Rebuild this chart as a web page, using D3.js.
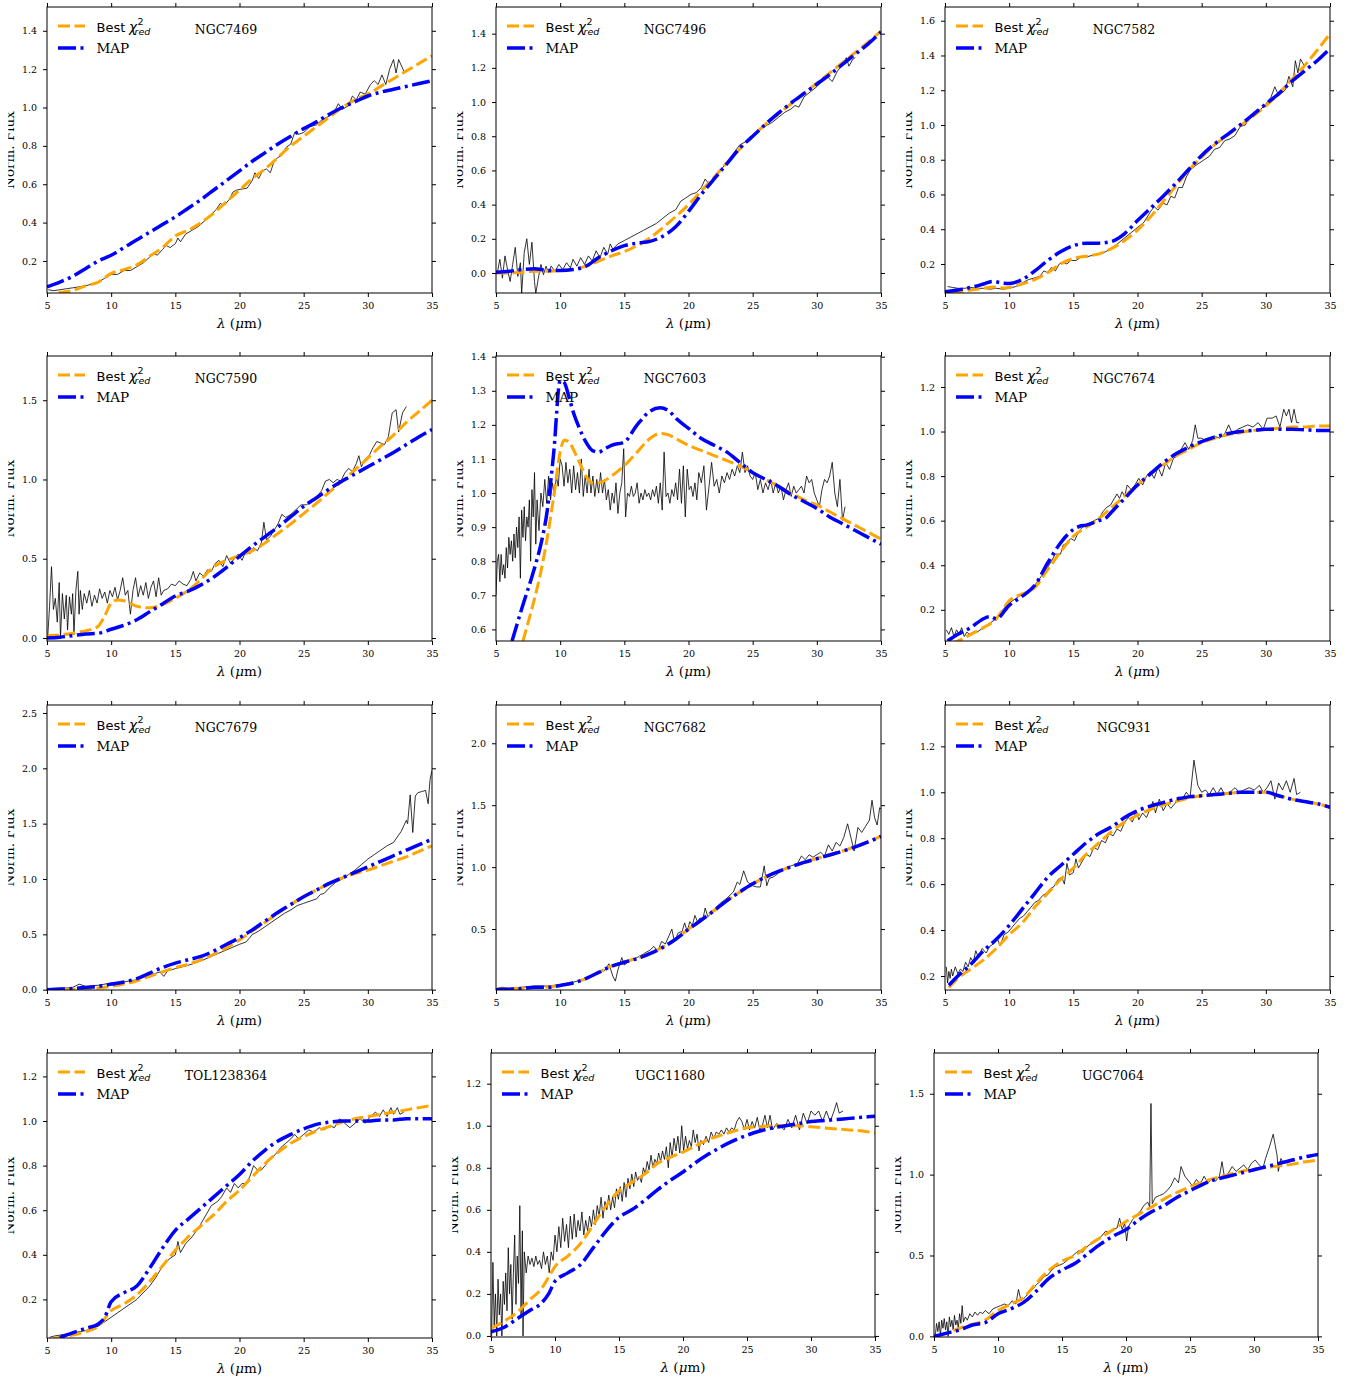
<!DOCTYPE html>
<html><head><meta charset="utf-8">
<script src="https://cdn.jsdelivr.net/npm/d3@7"></script>
<style>body{margin:0;background:#fff} svg{display:block}</style>
</head><body>
<svg id="fig" width="1357" height="1384"></svg>
<script>
// ---------------- DATA ----------------
const galaxyNames = ["NGC7469","NGC7496","NGC7582","NGC7590","NGC7603","NGC7674","NGC7679","NGC7682","NGC931","TOL1238364","UGC11680","UGC7064"];
const xTicks = [5,10,15,20,25,30,35];
const xLimits = [5,35];
const yLimits = [[0.033,1.524],[-0.117,1.556],[0.033,1.679],[-0.019,1.779],[0.566,1.402],[0.06,1.339],[-0.003,2.572],[0.008,2.309],[0.139,1.38],[0.027,1.305],[-0.005,1.346],[-0.004,1.752]];
const yTicks = [
 [0.2,0.4,0.6,0.8,1.0,1.2,1.4],
 [0.0,0.2,0.4,0.6,0.8,1.0,1.2,1.4],
 [0.2,0.4,0.6,0.8,1.0,1.2,1.4,1.6],
 [0.0,0.5,1.0,1.5],
 [0.6,0.7,0.8,0.9,1.0,1.1,1.2,1.3,1.4],
 [0.2,0.4,0.6,0.8,1.0,1.2],
 [0.0,0.5,1.0,1.5,2.0,2.5],
 [0.5,1.0,1.5,2.0],
 [0.2,0.4,0.6,0.8,1.0,1.2],
 [0.2,0.4,0.6,0.8,1.0,1.2],
 [0.0,0.2,0.4,0.6,0.8,1.0,1.2],
 [0.0,0.5,1.0,1.5]
];
const legendLabels = ["Best", "MAP"];

// NGC7469
const NGC7469_spec = [[5.1,0.05],[5.5,0.045],[6,0.05],[6.5,0.055],[7,0.06],[7.5,0.065],[8,0.07],[8.5,0.08],[9,0.09],[9.5,0.11],[10,0.13],[10.5,0.13],[11,0.15],[11.5,0.15],[12,0.17],[12.5,0.19],[13,0.22],[13.3,0.24],[13.6,0.23],[14,0.26],[14.3,0.28],[14.6,0.27],[15,0.29],[15.2,0.32],[15.4,0.3],[15.8,0.34],[16.3,0.36],[16.8,0.38],[17.3,0.41],[17.8,0.44],[18.2,0.47],[18.5,0.5],[18.8,0.49],[19.2,0.52],[19.5,0.56],[19.8,0.57],[20.2,0.575],[20.6,0.58],[21,0.62],[21.2,0.66],[21.5,0.63],[21.8,0.67],[22.1,0.68],[22.4,0.66],[22.7,0.72],[23,0.74],[23.3,0.75],[23.6,0.79],[24,0.81],[24.3,0.87],[24.6,0.86],[25,0.87],[25.5,0.9],[26,0.91],[26.5,0.94],[27,0.955],[27.4,0.98],[27.7,1.02],[28,0.99],[28.5,1.01],[28.8,1.06],[29.1,1.04],[29.4,1.08],[29.8,1.07],[30.2,1.12],[30.5,1.14],[30.8,1.12],[31.1,1.17],[31.4,1.12],[31.7,1.2],[32,1.25],[32.2,1.18],[32.4,1.25],[32.8,1.19]];
const NGC7469_best = [[5.9,0.035],[7,0.046],[8,0.07],[9,0.09],[10,0.135],[11,0.155],[12,0.18],[13,0.225],[14,0.27],[15,0.33],[16,0.36],[17,0.4],[18,0.45],[19,0.51],[20,0.57],[21,0.63],[22,0.68],[23,0.74],[24,0.8],[25,0.85],[26,0.9],[27,0.95],[28,1.0],[29,1.04],[30,1.07],[31,1.11],[32,1.15],[33,1.19],[34,1.23],[35,1.27]];
const NGC7469_map = [[5,0.065],[6,0.09],[7,0.12],[8,0.16],[9,0.2],[10,0.23],[11,0.27],[12,0.31],[13,0.35],[14,0.39],[15,0.43],[16,0.475],[17,0.52],[18,0.57],[19,0.62],[20,0.67],[21,0.72],[22,0.765],[23,0.81],[24,0.85],[25,0.89],[26,0.925],[27,0.965],[28,1.0],[29,1.03],[30,1.06],[31,1.08],[32,1.095],[33,1.11],[34,1.125],[35,1.14]];

// NGC7496
const NGC7496_spec = [[5.1,0.0],[5.3,0.08],[5.5,-0.03],[5.7,0.1],[5.9,0.02],[6.1,-0.05],[6.3,0.05],[6.5,0.15],[6.7,-0.02],[6.9,0.06],[7.0,-0.12],[7.2,0.12],[7.4,0.2],[7.6,0.05],[7.8,0.18],[8.0,-0.05],[8.1,-0.12],[8.3,-0.03],[8.5,0.05],[8.7,-0.01],[8.9,0.04],[9.1,0.0],[9.3,0.04],[9.6,0.01],[9.9,0.05],[10.2,0.02],[10.5,0.06],[10.8,0.03],[11.0,0.08],[11.3,0.04],[11.6,0.09],[11.9,0.05],[12.2,0.1],[12.5,0.07],[12.8,0.13],[13.1,0.09],[13.4,0.15],[13.7,0.11],[13.9,0.17],[14.1,0.14],[14.5,0.17],[15,0.19],[15.5,0.21],[16,0.23],[16.5,0.25],[17,0.27],[17.5,0.29],[18,0.32],[18.5,0.35],[19,0.37],[19.4,0.42],[19.8,0.44],[20.2,0.46],[20.6,0.47],[21,0.5],[21.3,0.55],[21.6,0.52],[22,0.56],[22.5,0.6],[23,0.65],[23.5,0.7],[24,0.75],[24.5,0.77],[25,0.8],[25.5,0.84],[26,0.86],[26.5,0.88],[27,0.91],[27.5,0.94],[28,0.96],[28.3,0.98],[28.6,0.97],[29,1.03],[29.5,1.06],[30,1.09],[30.5,1.13],[30.8,1.15],[31.2,1.12],[31.6,1.18],[32,1.22],[32.3,1.26],[32.5,1.21],[32.8,1.25],[33,1.26]];
const NGC7496_best = [[5,0.0],[6,0.0],[7,0.005],[8,0.01],[9,0.01],[10,0.015],[11,0.02],[12,0.04],[13,0.07],[14,0.1],[15,0.125],[16,0.16],[17,0.205],[18,0.265],[19,0.33],[20,0.4],[21,0.48],[22,0.56],[23,0.645],[24,0.725],[25,0.8],[26,0.87],[27,0.93],[28,0.99],[29,1.05],[30,1.11],[31,1.17],[32,1.23],[33,1.29],[34,1.35],[35,1.415]];
const NGC7496_map = [[5,0.005],[6,0.01],[7,0.02],[8,0.025],[9,0.015],[10,0.015],[11,0.02],[12,0.04],[13,0.09],[14,0.13],[15,0.16],[16,0.175],[17,0.185],[18,0.215],[19,0.27],[20,0.36],[21,0.46],[22,0.55],[23,0.64],[24,0.73],[25,0.8],[26,0.87],[27,0.935],[28,0.995],[29,1.05],[30,1.105],[31,1.16],[32,1.22],[33,1.28],[34,1.34],[35,1.41]];

// NGC7582
const NGC7582_spec = [[5.2,0.07],[5.6,0.065],[6,0.06],[6.5,0.06],[7,0.065],[7.5,0.06],[8,0.06],[8.5,0.055],[9,0.06],[9.5,0.055],[10,0.06],[10.5,0.07],[11,0.09],[11.5,0.11],[12,0.12],[12.4,0.13],[12.7,0.16],[13,0.15],[13.3,0.18],[13.6,0.16],[13.9,0.2],[14.2,0.21],[14.5,0.2],[14.8,0.22],[15.2,0.22],[15.6,0.24],[16,0.24],[16.5,0.25],[17,0.26],[17.5,0.27],[18,0.29],[18.5,0.32],[19,0.35],[19.5,0.38],[20,0.41],[20.5,0.44],[21,0.5],[21.3,0.53],[21.6,0.51],[22,0.55],[22.3,0.54],[22.6,0.59],[22.9,0.58],[23.2,0.64],[23.5,0.64],[23.8,0.7],[24.1,0.74],[24.4,0.76],[24.8,0.78],[25.2,0.8],[25.6,0.82],[26,0.86],[26.4,0.87],[26.8,0.91],[27.2,0.92],[27.6,0.94],[28,0.99],[28.4,1.0],[28.8,1.05],[29.2,1.07],[29.6,1.09],[30,1.12],[30.4,1.16],[30.7,1.22],[31,1.17],[31.5,1.2],[31.8,1.28],[32.1,1.22],[32.3,1.37],[32.5,1.3],[32.7,1.38],[33,1.34]];
const NGC7582_best = [[5.5,0.03],[6,0.035],[7,0.05],[8,0.06],[8.7,0.068],[9.5,0.062],[10,0.065],[11,0.085],[12,0.11],[13,0.15],[14,0.2],[15,0.232],[16,0.245],[17,0.258],[18,0.29],[19,0.335],[20,0.395],[21,0.47],[22,0.56],[23,0.65],[24,0.74],[25,0.815],[26,0.885],[27,0.94],[28,0.995],[29,1.05],[30,1.11],[31,1.18],[32,1.26],[33,1.34],[34,1.43],[35,1.525]];
const NGC7582_map = [[5,0.04],[6,0.05],[7,0.065],[8,0.085],[8.7,0.1],[9.5,0.09],[10,0.088],[11,0.11],[12,0.16],[13,0.22],[14,0.27],[15,0.305],[16,0.32],[17,0.32],[18,0.33],[19,0.375],[20,0.45],[21,0.52],[22,0.59],[23,0.665],[24,0.745],[25,0.825],[26,0.89],[27,0.945],[28,1.0],[29,1.06],[30,1.12],[31,1.18],[32,1.25],[33,1.31],[34,1.37],[35,1.44]];

// NGC7590
const NGC7590_spec = [[5.05,0.0],[5.2,0.2],[5.35,0.45],[5.5,0.18],[5.65,0.25],[5.8,0.1],[5.95,0.35],[6.05,0.0],[6.2,0.28],[6.35,0.12],[6.5,0.27],[6.6,0.05],[6.75,0.26],[6.9,0.15],[7.0,0.28],[7.1,0.02],[7.25,0.3],[7.4,0.42],[7.5,0.15],[7.6,0.3],[7.75,0.18],[7.9,0.28],[8.1,0.22],[8.3,0.3],[8.5,0.2],[8.7,0.27],[8.9,0.22],[9.1,0.31],[9.3,0.25],[9.5,0.29],[9.7,0.22],[9.9,0.3],[10.1,0.26],[10.3,0.32],[10.5,0.24],[10.7,0.3],[10.9,0.38],[11.1,0.27],[11.3,0.3],[11.5,0.15],[11.7,0.3],[11.9,0.38],[12.1,0.26],[12.3,0.33],[12.5,0.27],[12.7,0.35],[12.9,0.25],[13.1,0.32],[13.3,0.36],[13.5,0.26],[13.7,0.38],[13.9,0.27],[14.1,0.3],[14.4,0.31],[14.7,0.34],[15,0.33],[15.3,0.36],[15.6,0.34],[15.9,0.33],[16.2,0.37],[16.4,0.42],[16.6,0.36],[16.9,0.41],[17.2,0.39],[17.5,0.43],[17.8,0.42],[18.1,0.47],[18.4,0.49],[18.7,0.45],[19,0.52],[19.3,0.47],[19.6,0.5],[19.9,0.53],[20.2,0.49],[20.5,0.55],[20.8,0.53],[21.1,0.57],[21.4,0.55],[21.7,0.6],[21.9,0.73],[22.1,0.62],[22.4,0.64],[22.7,0.68],[23,0.72],[23.3,0.78],[23.6,0.76],[24,0.78],[24.4,0.81],[24.8,0.84],[25.2,0.84],[25.6,0.86],[26,0.89],[26.4,0.93],[26.7,0.99],[27,1.0],[27.3,0.98],[27.6,1.0],[27.9,0.99],[28.2,1.04],[28.5,1.07],[28.8,1.05],[29.1,1.1],[29.3,1.15],[29.5,1.08],[29.8,1.13],[30.1,1.15],[30.4,1.2],[30.7,1.24],[31,1.23],[31.3,1.22],[31.6,1.27],[31.9,1.42],[32.2,1.44],[32.4,1.3],[32.7,1.42],[33,1.46]];
const NGC7590_best = [[5,0.015],[6,0.02],[7,0.03],[8,0.045],[8.5,0.055],[9,0.075],[9.5,0.14],[10,0.22],[10.5,0.24],[11,0.235],[12,0.2],[13,0.19],[14,0.21],[15,0.25],[16,0.3],[17,0.37],[18,0.45],[19,0.49],[20,0.52],[21,0.55],[22,0.6],[23,0.66],[24,0.72],[25,0.785],[26,0.85],[27,0.92],[28,0.99],[29,1.06],[30,1.135],[31,1.21],[32,1.28],[33,1.36],[34,1.43],[35,1.5]];
const NGC7590_map = [[5,0.0],[6,0.005],[7,0.015],[8,0.025],[9,0.03],[10,0.055],[11,0.08],[12,0.115],[13,0.165],[14,0.215],[15,0.265],[16,0.295],[17,0.335],[18,0.385],[19,0.445],[20,0.515],[21,0.58],[22,0.64],[23,0.7],[24,0.765],[25,0.83],[26,0.885],[27,0.94],[28,0.99],[29,1.035],[30,1.08],[31,1.125],[32,1.17],[33,1.22],[34,1.27],[35,1.315]];

// NGC7603
const NGC7603_spec = [[5.0,0.7],[5.1,0.8],[5.2,0.82],[5.3,0.74],[5.4,0.82],[5.5,0.76],[5.6,0.79],[5.7,0.75],[5.8,0.84],[5.9,0.78],[6.0,0.87],[6.1,0.82],[6.2,0.86],[6.3,0.8],[6.4,0.88],[6.5,0.81],[6.6,0.9],[6.7,0.84],[6.8,0.93],[6.9,0.75],[7.0,0.95],[7.1,0.87],[7.2,0.96],[7.3,0.86],[7.4,0.93],[7.5,0.9],[7.6,0.98],[7.7,0.8],[7.8,1.01],[7.9,0.93],[8.0,1.06],[8.1,0.85],[8.2,0.98],[8.35,0.89],[8.5,1.0],[8.65,0.96],[8.8,1.04],[8.95,0.97],[9.1,1.05],[9.25,0.98],[9.4,1.03],[9.55,0.99],[9.7,1.05],[9.85,1.02],[10.0,1.1],[10.15,1.08],[10.3,1.02],[10.45,1.09],[10.6,1.03],[10.75,1.07],[10.9,1.0],[11.05,1.08],[11.2,1.01],[11.35,1.06],[11.5,1.0],[11.65,1.1],[11.8,0.99],[11.95,1.05],[12.1,1.0],[12.25,1.07],[12.4,1.0],[12.55,1.05],[12.7,0.99],[12.85,1.04],[13.0,1.0],[13.15,1.06],[13.3,1.0],[13.45,1.04],[13.6,0.98],[13.75,1.01],[13.9,0.95],[14.05,1.0],[14.2,0.97],[14.35,1.03],[14.5,0.94],[14.65,1.0],[14.8,1.03],[14.95,1.13],[15.1,0.93],[15.25,1.0],[15.4,0.99],[15.55,1.02],[15.7,0.99],[15.85,1.0],[16.0,1.03],[16.15,0.97],[16.3,1.0],[16.45,0.98],[16.6,1.01],[16.75,0.99],[16.9,1.0],[17.05,0.98],[17.2,1.01],[17.35,0.99],[17.5,1.02],[17.65,0.97],[17.8,1.03],[17.95,0.95],[18.1,1.12],[18.25,0.99],[18.4,1.0],[18.55,0.97],[18.7,1.01],[18.85,0.99],[19.0,1.03],[19.15,0.98],[19.3,1.07],[19.45,0.97],[19.6,1.08],[19.75,0.93],[19.9,1.07],[20.05,1.01],[20.2,1.02],[20.35,0.99],[20.5,1.03],[20.65,0.98],[20.8,1.06],[21.0,1.03],[21.2,1.08],[21.4,0.95],[21.6,1.02],[21.8,1.09],[22.0,1.02],[22.2,1.04],[22.4,1.0],[22.6,1.05],[22.8,1.03],[23.0,1.06],[23.2,1.04],[23.4,1.07],[23.6,1.05],[23.8,1.08],[24.0,1.06],[24.2,1.12],[24.4,1.06],[24.6,1.08],[24.8,1.05],[25.0,1.04],[25.2,1.06],[25.4,1.01],[25.6,1.04],[25.8,1.0],[26.0,1.03],[26.2,1.01],[26.4,1.04],[26.6,1.0],[26.8,1.03],[27.0,1.0],[27.2,1.02],[27.4,0.98],[27.6,1.01],[27.8,1.03],[28.0,0.99],[28.2,1.02],[28.4,1.0],[28.6,1.01],[28.8,1.02],[29.0,1.0],[29.2,1.05],[29.4,1.03],[29.6,1.04],[29.8,1.0],[30.0,0.98],[30.2,0.96],[30.4,1.01],[30.6,1.04],[30.8,1.03],[31.0,1.05],[31.2,1.09],[31.4,1.0],[31.6,0.96],[31.8,1.04],[32.0,0.92],[32.2,0.96]];
const NGC7603_best = [[7.1,0.566],[7.5,0.62],[8,0.69],[8.5,0.77],[9,0.87],[9.5,0.99],[10,1.12],[10.3,1.155],[10.7,1.15],[11,1.13],[11.5,1.09],[12,1.05],[12.5,1.03],[13,1.03],[14,1.05],[15,1.08],[16,1.12],[17,1.16],[17.8,1.175],[18.5,1.17],[19,1.16],[20,1.14],[21,1.125],[22,1.11],[23,1.095],[24,1.08],[25,1.06],[26,1.04],[27,1.02],[28,1.0],[29,0.98],[30,0.965],[31,0.945],[32,0.925],[33,0.905],[34,0.885],[35,0.865]];
const NGC7603_map = [[6.25,0.566],[7,0.66],[8,0.78],[8.5,0.85],[9,0.95],[9.5,1.12],[10,1.33],[10.3,1.325],[10.7,1.28],[11,1.24],[11.5,1.19],[12,1.15],[12.5,1.125],[13,1.12],[13.5,1.13],[14,1.14],[15,1.15],[16,1.2],[17,1.24],[17.8,1.25],[18.5,1.24],[19,1.22],[20,1.19],[21,1.16],[22,1.14],[23,1.12],[24,1.09],[25,1.06],[26,1.04],[27,1.02],[28,0.995],[29,0.975],[30,0.955],[31,0.93],[32,0.91],[33,0.89],[34,0.87],[35,0.85]];

// NGC7674
const NGC7674_spec = [[5.1,0.11],[5.3,0.09],[5.5,0.12],[5.7,0.08],[5.9,0.11],[6.1,0.09],[6.3,0.12],[6.5,0.08],[6.7,0.1],[6.9,0.09],[7.2,0.1],[7.5,0.1],[8,0.12],[8.5,0.14],[9,0.16],[9.5,0.2],[10,0.23],[10.5,0.25],[11,0.27],[11.5,0.28],[12,0.31],[12.5,0.35],[13,0.39],[13.3,0.42],[13.6,0.45],[14,0.45],[14.2,0.49],[14.5,0.5],[14.8,0.52],[15.1,0.51],[15.4,0.55],[15.7,0.57],[16,0.58],[16.3,0.59],[16.6,0.6],[17,0.61],[17.3,0.64],[17.6,0.66],[17.9,0.67],[18.2,0.7],[18.4,0.72],[18.6,0.7],[18.8,0.73],[19,0.71],[19.2,0.76],[19.5,0.74],[19.8,0.76],[20.1,0.79],[20.4,0.76],[20.7,0.8],[21,0.82],[21.3,0.79],[21.6,0.84],[21.9,0.8],[22.2,0.86],[22.5,0.83],[22.8,0.88],[23.1,0.89],[23.4,0.92],[23.7,0.95],[24,0.92],[24.3,0.96],[24.5,1.03],[24.7,0.97],[25,0.97],[25.3,0.96],[25.6,0.97],[26,0.98],[26.4,0.97],[26.8,0.99],[27.1,1.03],[27.4,0.99],[27.8,1.01],[28.2,1.02],[28.6,1.03],[29,1.02],[29.4,1.04],[29.8,1.01],[30.1,1.06],[30.5,1.06],[30.8,1.07],[31.1,1.02],[31.4,1.1],[31.6,1.07],[31.8,1.1],[32,1.04],[32.2,1.1],[32.4,1.04],[32.6,1.04]];
const NGC7674_best = [[5.5,0.05],[6,0.06],[7,0.09],[8,0.12],[9,0.16],[9.5,0.2],[10,0.24],[10.5,0.26],[11,0.27],[12,0.3],[13,0.38],[14,0.46],[15,0.53],[16,0.57],[17,0.61],[18,0.66],[19,0.71],[20,0.76],[21,0.81],[22,0.85],[23,0.89],[24,0.92],[25,0.95],[26,0.97],[27,0.985],[28,0.995],[29,1.005],[30,1.01],[31,1.015],[32,1.02],[33,1.02],[34,1.025],[35,1.025]];
const NGC7674_map = [[5.2,0.06],[6,0.09],[7,0.12],[8,0.16],[8.5,0.17],[9,0.16],[10,0.22],[11,0.26],[12,0.31],[13,0.41],[14,0.5],[15,0.56],[15.5,0.575],[16,0.58],[17,0.6],[17.5,0.61],[18,0.64],[19,0.7],[20,0.76],[21,0.81],[22,0.86],[23,0.9],[24,0.93],[25,0.955],[26,0.975],[27,0.99],[28,1.0],[29,1.005],[30,1.01],[31,1.01],[32,1.01],[33,1.008],[34,1.005],[35,1.005]];

// NGC7679
const NGC7679_spec = [[5,0.0],[6,0.01],[7,0.02],[7.5,0.05],[8,0.03],[9,0.04],[10,0.06],[11,0.07],[12,0.09],[13,0.13],[13.8,0.16],[14.1,0.12],[14.4,0.17],[15,0.19],[16,0.22],[17,0.26],[18,0.31],[19,0.36],[20,0.41],[20.5,0.43],[20.8,0.47],[21,0.5],[21.2,0.51],[21.5,0.53],[22,0.57],[22.5,0.61],[23,0.65],[23.5,0.69],[24,0.72],[24.5,0.76],[25,0.78],[25.5,0.8],[26,0.82],[26.3,0.86],[26.6,0.87],[27,0.92],[27.5,0.97],[28,1.0],[28.5,1.04],[29,1.08],[29.5,1.13],[30,1.18],[30.5,1.22],[31,1.26],[31.5,1.3],[32,1.33],[32.3,1.38],[32.6,1.43],[32.8,1.48],[33,1.53],[33.1,1.5],[33.3,1.76],[33.5,1.42],[33.7,1.75],[33.9,1.78],[34.2,1.79],[34.5,1.8],[34.7,1.68],[34.85,1.9],[35,1.98]];
const NGC7679_best = [[5,0.0],[6,0.0],[7,0.005],[8,0.01],[9,0.015],[10,0.03],[11,0.05],[12,0.08],[13,0.12],[14,0.16],[15,0.2],[16,0.23],[17,0.27],[18,0.32],[19,0.38],[20,0.45],[21,0.53],[22,0.61],[23,0.69],[24,0.77],[25,0.84],[26,0.9],[27,0.96],[28,1.01],[29,1.05],[30,1.08],[31,1.12],[32,1.16],[33,1.2],[34,1.25],[35,1.3]];
const NGC7679_map = [[5,0.0],[6,0.005],[7,0.01],[8,0.02],[9,0.03],[10,0.05],[11,0.07],[12,0.1],[13,0.15],[14,0.2],[15,0.24],[16,0.27],[17,0.3],[18,0.35],[19,0.41],[20,0.47],[21,0.54],[22,0.62],[23,0.7],[24,0.77],[25,0.84],[26,0.9],[27,0.96],[28,1.01],[29,1.06],[30,1.11],[31,1.16],[32,1.21],[33,1.26],[34,1.31],[35,1.36]];

// NGC7682
const NGC7682_spec = [[5,0.02],[5.5,0.03],[6,0.02],[7,0.03],[8,0.04],[9,0.04],[10,0.05],[11,0.07],[12,0.1],[13,0.14],[13.5,0.17],[13.8,0.22],[14.1,0.12],[14.3,0.08],[14.5,0.17],[14.8,0.27],[15,0.21],[15.5,0.25],[16,0.27],[16.5,0.3],[17,0.33],[17.3,0.36],[17.6,0.32],[17.9,0.4],[18.2,0.38],[18.5,0.45],[18.7,0.5],[18.9,0.4],[19.2,0.47],[19.5,0.48],[19.7,0.55],[19.9,0.48],[20.1,0.56],[20.3,0.53],[20.5,0.61],[20.7,0.56],[20.9,0.59],[21.1,0.57],[21.3,0.67],[21.5,0.6],[21.8,0.63],[22.1,0.67],[22.5,0.71],[23,0.75],[23.5,0.8],[23.8,0.88],[24,0.86],[24.3,0.97],[24.6,0.88],[25,0.85],[25.3,0.84],[25.6,0.84],[25.9,1.01],[26.1,0.85],[26.3,0.91],[26.6,0.92],[27,0.95],[27.5,0.99],[28,1.01],[28.5,1.03],[28.8,1.09],[29.1,1.06],[29.4,1.1],[29.7,1.08],[30,1.1],[30.3,1.12],[30.6,1.09],[30.9,1.18],[31.2,1.13],[31.5,1.2],[31.8,1.17],[32.1,1.24],[32.4,1.35],[32.7,1.22],[32.9,1.13],[33.2,1.32],[33.5,1.28],[33.8,1.33],[34.1,1.38],[34.3,1.54],[34.5,1.4],[34.7,1.34],[34.9,1.48],[35,1.47]];
const NGC7682_best = [[5,0.012],[6,0.016],[7,0.022],[8,0.03],[9,0.032],[10,0.046],[11,0.066],[12,0.1],[13,0.15],[14,0.2],[15,0.235],[16,0.265],[17,0.305],[18,0.355],[19,0.42],[20,0.5],[21,0.575],[22,0.65],[23,0.73],[24,0.8],[25,0.865],[26,0.92],[27,0.965],[28,1.005],[29,1.04],[30,1.07],[31,1.1],[32,1.13],[33,1.165],[34,1.205],[35,1.25]];
const NGC7682_map = [[5,0.01],[6,0.015],[7,0.02],[8,0.03],[9,0.03],[10,0.045],[11,0.065],[12,0.1],[13,0.15],[14,0.2],[15,0.232],[16,0.262],[17,0.302],[18,0.352],[19,0.418],[20,0.498],[21,0.573],[22,0.65],[23,0.73],[24,0.8],[25,0.865],[26,0.92],[27,0.965],[28,1.003],[29,1.038],[30,1.068],[31,1.098],[32,1.128],[33,1.163],[34,1.203],[35,1.248]];

// NGC931
const NGC931_spec = [[5.1,0.24],[5.2,0.17],[5.3,0.22],[5.4,0.19],[5.5,0.23],[5.6,0.2],[5.8,0.24],[6,0.21],[6.2,0.23],[6.4,0.22],[6.6,0.26],[6.8,0.24],[7,0.28],[7.2,0.26],[7.4,0.31],[7.6,0.28],[7.9,0.32],[8.2,0.3],[8.5,0.33],[8.8,0.34],[9.1,0.36],[9.3,0.33],[9.6,0.38],[9.9,0.39],[10.2,0.41],[10.5,0.43],[10.8,0.45],[11.1,0.46],[11.4,0.48],[11.7,0.5],[12,0.52],[12.3,0.53],[12.6,0.55],[12.9,0.56],[13.2,0.58],[13.5,0.59],[13.8,0.62],[14.1,0.63],[14.3,0.6],[14.5,0.69],[14.7,0.64],[15,0.65],[15.2,0.71],[15.4,0.67],[15.7,0.7],[16,0.73],[16.3,0.72],[16.6,0.76],[16.9,0.75],[17.2,0.79],[17.5,0.78],[17.8,0.82],[18.1,0.81],[18.4,0.84],[18.7,0.83],[19,0.87],[19.3,0.89],[19.6,0.87],[19.9,0.92],[20.1,0.88],[20.4,0.91],[20.7,0.89],[21,0.93],[21.2,0.96],[21.4,0.91],[21.7,0.97],[22,0.92],[22.3,0.95],[22.6,0.93],[22.9,0.95],[23.2,0.98],[23.5,0.97],[23.8,1.0],[24.1,0.98],[24.4,1.14],[24.7,1.03],[25,1.0],[25.3,1.01],[25.6,0.99],[25.9,1.02],[26.2,0.99],[26.5,1.02],[26.8,0.99],[27.2,1.0],[27.6,1.02],[27.9,1.0],[28.3,1.01],[28.7,1.02],[29.1,1.01],[29.5,1.03],[29.8,1.0],[30.1,1.02],[30.4,1.05],[30.7,0.97],[31,1.04],[31.3,1.01],[31.6,1.05],[31.9,1.0],[32.2,1.06],[32.4,0.99],[32.7,1.0]];
const NGC931_best = [[5.3,0.15],[6,0.19],[7,0.23],[8,0.27],[9,0.32],[10,0.38],[11,0.43],[12,0.5],[13,0.56],[14,0.62],[15,0.67],[16,0.73],[17,0.78],[18,0.83],[19,0.87],[20,0.9],[21,0.925],[22,0.945],[23,0.96],[24,0.975],[25,0.985],[26,0.99],[27,0.995],[28,1.0],[29,1.0],[30,1.0],[31,0.985],[32,0.97],[33,0.96],[34,0.95],[35,0.935]];
const NGC931_map = [[5.3,0.16],[6,0.2],[7,0.25],[8,0.31],[9,0.36],[10,0.42],[11,0.49],[12,0.56],[13,0.63],[14,0.68],[15,0.73],[16,0.78],[17,0.82],[18,0.85],[19,0.89],[20,0.92],[21,0.94],[22,0.955],[23,0.97],[24,0.98],[25,0.985],[26,0.99],[27,0.995],[28,1.0],[29,1.0],[30,1.0],[31,0.985],[32,0.97],[33,0.96],[34,0.95],[35,0.935]];

// TOL1238364
const TOL1238364_spec = [[5.2,0.03],[5.5,0.035],[6,0.04],[6.5,0.045],[7,0.05],[8,0.06],[9,0.08],[10,0.12],[11,0.16],[12,0.2],[13,0.26],[13.5,0.3],[14,0.35],[14.5,0.38],[15,0.4],[15.2,0.46],[15.4,0.41],[15.8,0.45],[16.3,0.48],[16.8,0.52],[17.3,0.57],[17.8,0.62],[18.3,0.64],[18.6,0.66],[19,0.7],[19.3,0.68],[19.6,0.72],[19.9,0.7],[20.2,0.72],[20.5,0.72],[20.8,0.75],[21.1,0.8],[21.4,0.78],[21.7,0.78],[22,0.8],[22.4,0.83],[22.8,0.85],[23.2,0.88],[23.6,0.9],[24,0.92],[24.3,0.94],[24.6,0.92],[25,0.94],[25.4,0.96],[25.8,0.95],[26.2,0.97],[26.6,0.96],[27,0.98],[27.4,0.97],[27.8,1.01],[28.2,0.99],[28.6,0.97],[29,0.99],[29.4,1.01],[29.8,0.99],[30.2,1.02],[30.6,1.04],[30.9,1.02],[31.2,1.05],[31.5,1.02],[31.8,1.06],[32,1.03],[32.3,1.06],[32.5,1.03],[32.8,1.04]];
const TOL1238364_best = [[5.5,0.025],[6,0.03],[7,0.04],[8,0.055],[9,0.08],[10,0.15],[11,0.18],[12,0.22],[13,0.28],[14,0.35],[15,0.42],[16,0.48],[17,0.53],[18,0.58],[19,0.64],[20,0.69],[21,0.75],[22,0.81],[23,0.86],[24,0.9],[25,0.93],[26,0.955],[27,0.975],[28,0.995],[29,1.01],[30,1.02],[31,1.03],[32,1.04],[33,1.05],[34,1.06],[35,1.07]];
const TOL1238364_map = [[6,0.03],[7,0.05],[8,0.07],[9,0.09],[9.5,0.12],[10,0.19],[11,0.23],[12,0.26],[13,0.34],[14,0.43],[15,0.51],[16,0.56],[17,0.61],[18,0.66],[19,0.71],[20,0.76],[21,0.82],[22,0.87],[23,0.91],[24,0.94],[25,0.965],[26,0.985],[27,0.995],[28,1.0],[29,1.0],[30,1.0],[31,1.005],[32,1.005],[33,1.01],[34,1.01],[35,1.01]];

// UGC11680
const UGC11680_spec = [[5.05,0.0],[5.15,0.35],[5.25,0.05],[5.35,0.2],[5.45,0.0],[5.55,0.27],[5.65,0.1],[5.75,0.2],[5.85,0.0],[5.95,0.26],[6.05,0.15],[6.15,0.3],[6.25,0.12],[6.35,0.42],[6.45,0.2],[6.55,0.34],[6.65,0.08],[6.75,0.3],[6.85,0.48],[6.95,0.15],[7.05,0.38],[7.15,0.25],[7.25,0.62],[7.35,0.1],[7.45,0.5],[7.5,0.0],[7.6,0.4],[7.75,0.3],[7.9,0.38],[8.05,0.34],[8.2,0.37],[8.35,0.33],[8.5,0.38],[8.65,0.34],[8.8,0.36],[8.95,0.32],[9.1,0.4],[9.25,0.34],[9.4,0.38],[9.55,0.3],[9.7,0.4],[9.85,0.36],[10,0.48],[10.15,0.4],[10.3,0.52],[10.45,0.42],[10.6,0.56],[10.75,0.45],[10.9,0.53],[11.05,0.42],[11.2,0.57],[11.35,0.46],[11.5,0.58],[11.65,0.47],[11.8,0.55],[11.95,0.5],[12.1,0.59],[12.25,0.48],[12.4,0.55],[12.55,0.5],[12.7,0.57],[12.85,0.52],[13,0.6],[13.15,0.53],[13.3,0.62],[13.45,0.57],[13.6,0.66],[13.75,0.56],[13.9,0.64],[14.05,0.6],[14.2,0.67],[14.35,0.6],[14.5,0.66],[14.65,0.61],[14.8,0.7],[14.95,0.65],[15.1,0.71],[15.25,0.64],[15.4,0.73],[15.55,0.66],[15.7,0.75],[15.85,0.7],[16,0.77],[16.15,0.71],[16.3,0.78],[16.45,0.74],[16.6,0.76],[16.75,0.73],[16.9,0.8],[17.05,0.77],[17.2,0.83],[17.35,0.79],[17.5,0.86],[17.65,0.8],[17.8,0.84],[17.95,0.82],[18.1,0.87],[18.25,0.83],[18.4,0.88],[18.55,0.84],[18.7,0.9],[18.85,0.8],[19,0.92],[19.15,0.85],[19.3,0.94],[19.45,0.88],[19.6,0.95],[19.75,0.87],[19.9,1.0],[20.05,0.88],[20.2,0.95],[20.35,0.89],[20.5,0.93],[20.65,0.9],[20.8,0.98],[20.95,0.92],[21.1,0.96],[21.25,0.88],[21.4,0.93],[21.6,0.91],[21.8,0.95],[22.0,0.92],[22.2,0.97],[22.4,0.94],[22.6,0.97],[22.8,0.96],[23.0,0.98],[23.2,0.96],[23.4,0.99],[23.6,0.97],[23.8,0.99],[24.0,0.98],[24.2,1.02],[24.4,1.04],[24.6,1.02],[24.8,0.98],[25.0,1.03],[25.2,0.98],[25.4,1.02],[25.6,0.99],[25.8,1.04],[26.0,0.98],[26.2,1.0],[26.4,1.05],[26.6,0.99],[26.8,1.05],[27.0,0.98],[27.3,1.01],[27.6,1.0],[27.9,0.98],[28.2,1.03],[28.5,0.99],[28.8,1.05],[29.1,0.98],[29.4,1.06],[29.7,1.01],[30.0,1.07],[30.3,1.05],[30.6,1.07],[30.9,1.02],[31.2,1.07],[31.5,1.02],[31.8,1.07],[32.0,1.11],[32.2,1.06],[32.5,1.07]];
const UGC11680_best = [[5,0.035],[6,0.07],[7,0.11],[8,0.17],[9,0.23],[9.5,0.28],[10,0.33],[11,0.38],[12,0.44],[13,0.53],[14,0.62],[15,0.69],[16,0.73],[17,0.77],[18,0.82],[19,0.85],[20,0.875],[21,0.905],[22,0.935],[23,0.955],[24,0.975],[25,0.99],[26,0.995],[27,1.0],[28,1.0],[29,1.0],[30,0.995],[31,0.99],[32,0.985],[33,0.98],[34,0.975],[35,0.965]];
const UGC11680_map = [[5,0.02],[6,0.04],[7,0.08],[8,0.12],[9,0.16],[9.5,0.2],[10,0.26],[11,0.3],[12,0.34],[13,0.42],[14,0.5],[15,0.565],[16,0.6],[17,0.645],[18,0.695],[19,0.74],[20,0.78],[21,0.825],[22,0.865],[23,0.9],[24,0.93],[25,0.955],[26,0.975],[27,0.99],[28,1.0],[29,1.01],[30,1.02],[31,1.025],[32,1.03],[33,1.035],[34,1.04],[35,1.045]];

// UGC7064
const UGC7064_spec = [[5.1,0.0],[5.2,0.08],[5.3,0.03],[5.4,0.09],[5.5,0.0],[5.6,0.1],[5.7,0.05],[5.8,0.11],[5.9,0.04],[6.0,0.09],[6.1,0.0],[6.2,0.12],[6.3,0.06],[6.4,0.1],[6.5,0.04],[6.6,0.13],[6.7,0.07],[6.8,0.1],[6.9,0.05],[7.0,0.14],[7.1,0.08],[7.2,0.19],[7.3,0.09],[7.45,0.12],[7.6,0.1],[7.8,0.14],[8.0,0.12],[8.2,0.15],[8.4,0.13],[8.6,0.15],[8.8,0.14],[9.0,0.16],[9.3,0.14],[9.6,0.17],[9.9,0.18],[10.2,0.19],[10.5,0.2],[10.8,0.19],[11.1,0.22],[11.4,0.2],[11.6,0.29],[11.8,0.22],[12.1,0.24],[12.4,0.27],[12.7,0.29],[13,0.32],[13.3,0.34],[13.6,0.37],[13.9,0.38],[14.2,0.41],[14.5,0.43],[14.8,0.44],[15.1,0.45],[15.4,0.47],[15.7,0.49],[16,0.51],[16.3,0.53],[16.6,0.52],[16.9,0.55],[17.2,0.57],[17.5,0.58],[17.8,0.6],[18.1,0.62],[18.4,0.65],[18.7,0.64],[19.0,0.66],[19.3,0.67],[19.5,0.73],[19.7,0.66],[19.9,0.7],[20.05,0.59],[20.2,0.68],[20.5,0.72],[20.8,0.75],[21.1,0.77],[21.4,0.81],[21.7,0.83],[21.85,0.8],[21.95,1.44],[22.05,0.82],[22.3,0.86],[22.6,0.87],[22.9,0.88],[23.2,0.9],[23.5,0.93],[23.8,0.98],[24.1,0.95],[24.3,1.05],[24.6,0.99],[24.9,0.96],[25.2,0.93],[25.5,0.97],[25.8,0.94],[26.1,0.99],[26.4,0.95],[26.7,0.97],[27,0.96],[27.3,0.99],[27.5,1.08],[27.7,0.98],[28,1.01],[28.3,1.05],[28.6,1.02],[28.9,1.04],[29.2,1.06],[29.5,1.03],[29.8,1.07],[30.1,1.09],[30.4,1.06],[30.7,1.04],[30.9,1.1],[31.2,1.17],[31.5,1.25],[31.8,1.12],[31.9,1.02],[32.1,1.1],[32.3,1.07]];
const UGC7064_best = [[5.3,0.0],[6,0.02],[7,0.05],[8,0.075],[9,0.1],[10,0.16],[11,0.2],[12,0.24],[13,0.33],[14,0.41],[15,0.465],[16,0.5],[17,0.56],[18,0.61],[19,0.66],[20,0.71],[21,0.755],[22,0.8],[23,0.85],[24,0.89],[25,0.925],[26,0.955],[27,0.98],[28,1.0],[29,1.02],[30,1.035],[31,1.045],[32,1.055],[33,1.065],[34,1.08],[35,1.09]];
const UGC7064_map = [[5,0.0],[6,0.02],[7,0.04],[8,0.07],[9,0.085],[10,0.14],[11,0.17],[12,0.21],[13,0.28],[14,0.36],[15,0.41],[16,0.45],[17,0.51],[18,0.57],[19,0.62],[20,0.66],[21,0.72],[22,0.77],[23,0.81],[24,0.86],[25,0.9],[26,0.94],[27,0.97],[28,0.99],[29,1.01],[30,1.03],[31,1.05],[32,1.07],[33,1.09],[34,1.11],[35,1.125]];

const specSeries = [NGC7469_spec,NGC7496_spec,NGC7582_spec,NGC7590_spec,NGC7603_spec,NGC7674_spec,NGC7679_spec,NGC7682_spec,NGC931_spec,TOL1238364_spec,UGC11680_spec,UGC7064_spec];
const bestSeries = [NGC7469_best,NGC7496_best,NGC7582_best,NGC7590_best,NGC7603_best,NGC7674_best,NGC7679_best,NGC7682_best,NGC931_best,TOL1238364_best,UGC11680_best,UGC7064_best];
const mapSeries = [NGC7469_map,NGC7496_map,NGC7582_map,NGC7590_map,NGC7603_map,NGC7674_map,NGC7679_map,NGC7682_map,NGC931_map,TOL1238364_map,UGC11680_map,UGC7064_map];

// ---------------- LAYOUT ----------------
// [left, right, top, bottom] of each axes box
const boxes = [
 [47,432,7,293],[496,881,7,293],[945,1330,7,293],
 [47,432,356,641],[496,881,356,641],[945,1330,356,641],
 [47,432,705,990],[496,881,705,990],[945,1330,705,990],
 [47,432,1053,1338],[491,875,1053,1337],[934,1318,1053,1337]
];
const ORANGE = "#FFA500", BLUE = "#0000FF";
const SERIF = "'DejaVu Serif', serif", SANS = "'DejaVu Sans', sans-serif";

const svg = d3.select("#fig");
const defs = svg.append("defs");

galaxyNames.forEach((name, i) => {
  const [L, R, T, B] = boxes[i];
  const x = d3.scaleLinear().domain(xLimits).range([L, R]);
  const y = d3.scaleLinear().domain(yLimits[i]).range([B, T]);
  const g = svg.append("g");

  defs.append("clipPath").attr("id", "c" + i).append("rect")
    .attr("x", L).attr("y", T).attr("width", R - L).attr("height", B - T);
  defs.append("clipPath").attr("id", "yl" + i).append("rect")
    .attr("x", L - 38.7).attr("y", T).attr("width", 30).attr("height", B - T);

  // y label (partly hidden, as in reference)
  g.append("g").attr("clip-path", `url(#yl${i})`)
    .append("text")
    .attr("transform", `translate(${L - 33},${(T + B) / 2}) rotate(-90)`)
    .attr("text-anchor", "middle")
    .style("font-family", SERIF).style("font-size", "13.5px")
    .text("Norm. Flux");

  const lin = d3.line().x(d => x(d[0])).y(d => y(d[1]));
  const smooth = d3.line().x(d => x(d[0])).y(d => y(d[1])).curve(d3.curveMonotoneX);

  const plot = g.append("g").attr("clip-path", `url(#c${i})`);
  plot.append("path").attr("d", lin(specSeries[i]))
    .attr("fill", "none").attr("stroke", "#000").attr("stroke-width", 0.8).attr("stroke-linejoin", "round");
  plot.append("path").attr("d", smooth(bestSeries[i]))
    .attr("fill", "none").attr("stroke", ORANGE).attr("stroke-width", 3).attr("stroke-dasharray", "12,4.5");
  plot.append("path").attr("d", smooth(mapSeries[i]))
    .attr("fill", "none").attr("stroke", BLUE).attr("stroke-width", 3.5).attr("stroke-dasharray", "18,4.5,3,4.5");

  // axes
  const styleAxis = sel => {
    sel.select(".domain").remove();
    sel.selectAll(".tick line").attr("stroke", "#000").attr("stroke-width", 1);
    sel.selectAll("text").style("font-family", SERIF).style("font-size", "9.5px").attr("fill", "#000");
  };
  g.append("g").attr("transform", `translate(0,${B})`)
    .call(d3.axisBottom(x).tickValues(xTicks).tickSize(4).tickPadding(5).tickFormat(d3.format("d"))).call(styleAxis);
  g.append("g").attr("transform", `translate(0,${T})`)
    .call(d3.axisTop(x).tickValues(xTicks).tickSize(4).tickFormat("")).call(styleAxis);
  g.append("g").attr("transform", `translate(${L},0)`)
    .call(d3.axisLeft(y).tickValues(yTicks[i]).tickSize(4).tickPadding(6).tickFormat(d3.format(".1f"))).call(styleAxis);
  g.append("g").attr("transform", `translate(${R},0)`)
    .call(d3.axisRight(y).tickValues(yTicks[i]).tickSize(4).tickFormat("")).call(styleAxis);

  g.append("rect").attr("x", L).attr("y", T).attr("width", R - L).attr("height", B - T)
    .attr("fill", "none").attr("stroke", "#000").attr("stroke-width", 1);

  // x label
  const xl = g.append("text").attr("x", (L + R) / 2).attr("y", B + 35).attr("text-anchor", "middle")
    .style("font-family", SERIF).style("font-size", "13.5px");
  xl.append("tspan").style("font-style", "italic").text("λ");
  xl.append("tspan").text(" (");
  xl.append("tspan").style("font-style", "italic").text("μ");
  xl.append("tspan").text("m)");

  // legend
  g.append("line").attr("x1", L + 11).attr("x2", L + 38).attr("y1", T + 19).attr("y2", T + 19)
    .attr("stroke", ORANGE).attr("stroke-width", 3).attr("stroke-dasharray", "12,4.5");
  g.append("line").attr("x1", L + 11).attr("x2", L + 38).attr("y1", T + 41).attr("y2", T + 41)
    .attr("stroke", BLUE).attr("stroke-width", 3.5).attr("stroke-dasharray", "18,4.5,3,4.5");
  g.append("text").attr("x", L + 49.5).attr("y", T + 24.7)
    .style("font-family", SANS).style("font-size", "13px").text(legendLabels[0]);
  g.append("text").attr("x", L + 82).attr("y", T + 24.7)
    .style("font-family", SANS).style("font-size", "13.5px").style("font-style", "italic").text("χ");
  g.append("text").attr("x", L + 90.5).attr("y", T + 18)
    .style("font-family", SANS).style("font-size", "9.5px").text("2");
  g.append("text").attr("x", L + 87.5).attr("y", T + 27.5)
    .style("font-family", SANS).style("font-size", "9.5px").style("font-style", "italic").text("red");
  g.append("text").attr("x", L + 49.5).attr("y", T + 46.3)
    .style("font-family", SERIF).style("font-size", "13.5px").text(legendLabels[1]);

  // galaxy name
  g.append("text").attr("x", L + 179).attr("y", T + 27).attr("text-anchor", "middle")
    .style("font-family", SERIF).style("font-size", "12.5px").text(name);
});
</script>
</body></html>
